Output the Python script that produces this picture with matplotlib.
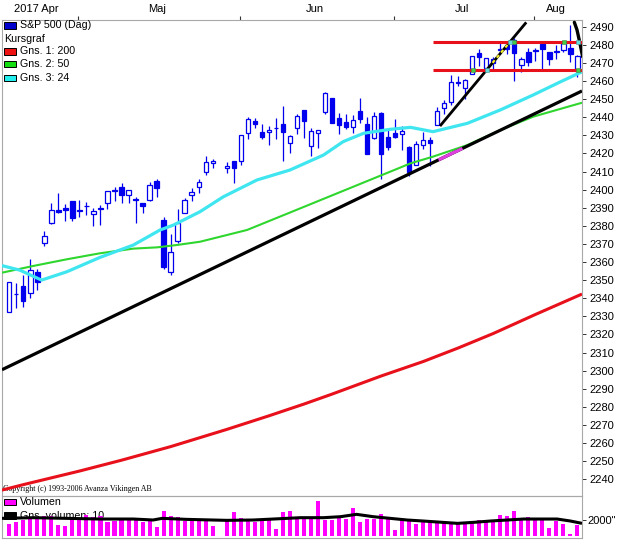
import numpy as np
import matplotlib
matplotlib.use("Agg")
import matplotlib.pyplot as plt
from matplotlib.patches import Rectangle

plt.rcParams['font.family'] = ['Liberation Sans', 'DejaVu Sans']

# ---------------- data ----------------
dates = [
    "2017-04-17", "2017-04-18", "2017-04-19", "2017-04-20", "2017-04-21",
    "2017-04-24", "2017-04-25", "2017-04-26", "2017-04-27", "2017-04-28",
    "2017-05-01", "2017-05-02", "2017-05-03", "2017-05-04", "2017-05-05",
    "2017-05-08", "2017-05-09", "2017-05-10", "2017-05-11", "2017-05-12",
    "2017-05-15", "2017-05-16", "2017-05-17", "2017-05-18", "2017-05-19",
    "2017-05-22", "2017-05-23", "2017-05-24", "2017-05-25", "2017-05-26",
    "2017-05-29", "2017-05-30", "2017-05-31",
    "2017-06-01", "2017-06-02", "2017-06-05", "2017-06-06", "2017-06-07",
    "2017-06-08", "2017-06-09", "2017-06-12", "2017-06-13", "2017-06-14",
    "2017-06-15", "2017-06-16", "2017-06-19", "2017-06-20", "2017-06-21",
    "2017-06-22", "2017-06-23", "2017-06-26", "2017-06-27", "2017-06-28",
    "2017-06-29", "2017-06-30",
    "2017-07-03", "2017-07-05", "2017-07-06", "2017-07-07", "2017-07-10",
    "2017-07-11", "2017-07-12", "2017-07-13", "2017-07-14", "2017-07-17",
    "2017-07-18", "2017-07-19", "2017-07-20", "2017-07-21", "2017-07-24",
    "2017-07-25", "2017-07-26", "2017-07-27", "2017-07-28", "2017-07-31",
    "2017-08-01", "2017-08-02", "2017-08-03", "2017-08-04", "2017-08-07",
    "2017-08-08", "2017-08-09",
]
nan = np.nan
open_ = [2332.6, 2342.5, 2346.8, 2342.7, 2354.7, 2370.3, 2381.5, 2389.0, 2389.7, 2393.7,
         2388.5, 2391.1, 2386.5, 2389.8, 2392.4, 2399.9, 2401.6, 2396.8, 2394.8, 2392.4,
         2394.0, 2404.6, 2383.0, 2354.7, 2371.4, 2387.2, 2397.0, 2401.4, 2409.5, 2414.5,
         nan, 2411.7, 2415.6,
         2415.7, 2431.3, 2437.8, 2431.9, 2432.0, 2434.3, 2436.4, 2425.9, 2434.2, 2443.8,
         2424.1, 2431.2, 2442.6, 2450.7, 2439.3, 2437.4, 2434.7, 2443.3, 2436.3, 2428.7,
         2442.4, 2429.2,
         2431.4, 2430.8, 2423.7, 2413.5, 2424.5, 2427.4, 2435.8, 2445.0, 2448.4, 2459.5,
         2455.9, 2463.9, 2475.6, 2467.4, 2472.0, 2477.9, 2480.0, 2482.8, 2469.1, 2475.9,
         2477.1, 2480.4, 2476.0, 2476.1, 2477.1, 2478.4, 2465.4]
high = [2349.1, 2348.4, 2352.6, 2361.4, 2356.2, 2376.9, 2392.5, 2398.2, 2392.1, 2393.7,
        2394.5, 2392.9, 2389.8, 2391.4, 2399.3, 2401.4, 2403.9, 2399.7, 2395.7, 2392.4,
        2404.1, 2405.8, 2384.9, 2375.7, 2389.1, 2395.5, 2400.9, 2405.6, 2418.7, 2416.7,
        nan, 2415.3, 2416.0,
        2430.1, 2440.2, 2439.6, 2436.2, 2435.3, 2439.3, 2446.2, 2430.4, 2441.5, 2443.8,
        2434.0, 2433.2, 2453.8, 2450.7, 2442.2, 2441.6, 2441.4, 2450.4, 2440.2, 2443.0,
        2442.7, 2432.7,
        2439.2, 2434.9, 2424.3, 2426.9, 2432.0, 2429.3, 2445.8, 2449.3, 2463.5, 2462.8,
        2460.9, 2473.8, 2477.6, 2472.5, 2473.1, 2481.2, 2481.7, 2484.0, 2473.5, 2478.0,
        2478.5, 2480.4, 2476.0, 2480.0, 2481.0, 2490.9, 2474.4]
low = [2332.5, 2334.5, 2335.1, 2340.3, 2344.5, 2369.0, 2381.2, 2386.8, 2382.7, 2382.4,
       2384.8, 2385.8, 2379.8, 2380.4, 2389.4, 2393.9, 2392.4, 2392.8, 2381.7, 2387.2,
       2393.9, 2396.1, 2356.2, 2352.7, 2370.4, 2386.9, 2393.9, 2398.0, 2408.0, 2412.2,
       nan, 2409.4, 2403.6,
       2413.5, 2427.7, 2434.3, 2428.1, 2424.8, 2427.9, 2415.7, 2420.0, 2430.7, 2428.3,
       2418.5, 2422.9, 2441.8, 2436.6, 2430.7, 2433.3, 2431.1, 2437.0, 2419.4, 2428.0,
       2405.7, 2421.7,
       2428.7, 2422.1, 2407.7, 2413.5, 2422.3, 2412.8, 2435.8, 2441.7, 2446.7, 2457.2,
       2450.3, 2463.9, 2468.4, 2465.1, 2466.3, 2474.9, 2474.9, 2459.9, 2464.7, 2468.5,
       2471.1, 2466.5, 2468.9, 2472.1, 2475.9, 2470.3, 2462.1]
close = [2349.0, 2342.2, 2338.2, 2355.8, 2348.7, 2374.2, 2388.6, 2387.5, 2388.8, 2384.2,
         2388.3, 2391.2, 2388.1, 2389.5, 2399.3, 2399.4, 2396.9, 2399.6, 2394.4, 2390.9,
         2402.3, 2400.7, 2357.0, 2365.7, 2381.7, 2394.0, 2398.4, 2404.4, 2415.1, 2415.8,
         nan, 2412.9, 2411.8,
         2430.1, 2439.1, 2436.1, 2429.3, 2433.1, 2433.8, 2431.8, 2429.4, 2440.4, 2437.9,
         2432.5, 2433.2, 2453.5, 2437.0, 2435.6, 2434.5, 2438.3, 2439.1, 2419.4, 2440.7,
         2419.7, 2423.4,
         2429.0, 2432.5, 2409.8, 2425.2, 2427.4, 2425.5, 2443.3, 2447.8, 2459.3, 2459.1,
         2460.6, 2473.8, 2473.5, 2472.5, 2469.9, 2477.1, 2477.8, 2475.4, 2472.1, 2470.3,
         2476.4, 2477.6, 2472.2, 2476.8, 2480.9, 2474.9, 2474.0]
volume = [1445, 1700, 2000, 2295, 2125, 2550, 2550, 1360, 1275, 2295,
          2125, 2635, 2420, 2465, 1785, 1870, 1955, 2000, 2125, 1785,
          2000, 1150, 3145, 2550, 2420, 1870, 1870, 1870, 1870, 1275,
          nan, 1870, 3060,
          2210, 2125, 1700, 1955, 2295, 850, 3060, 3145, 2210, 2125,
          2125, 4420, 2000, 2000, 2340, 2085, 3485, 1785, 2125, 2125,
          2720, 2125,
          720, 2000, 2125, 1445, 1785, 1870, 1785, 1870, 1445, 1530,
          1785, 1785, 2000, 2000, 2000, 2635, 2550, 3145, 2125, 2340,
          2125, 2295, 1020, 1870, 1445, 170, 1360]

# moving averages (slot position, value)
ma200_x = [-1.04, 2, 10, 16, 23, 31, 37, 42, 46, 53, 59, 64, 69, 75, 81.65]
ma200_y = [2234.0, 2237.0, 2244.5, 2250.5, 2258.0, 2267.5, 2275.0, 2281.5, 2287.0,
           2297.0, 2305.0, 2312.5, 2320.5, 2331.0, 2342.3]
ma50_x = [-1.04, 3.4, 8.2, 12.9, 17.7, 21.1, 23.9, 27.2, 33.9, 40.0, 45.0, 50.0, 55.0,
          57.2, 60.4, 65.3, 70.0, 74.7, 81.65]
ma50_y = [2354.1, 2357.8, 2361.5, 2364.8, 2367.4, 2368.1, 2369.4, 2371.2, 2377.7, 2387.3,
          2395.2, 2403.1, 2411.0, 2414.5, 2418.2, 2424.6, 2432.9, 2440.3, 2448.0]
ma24_x = [-1.04, 1.5, 4.6, 8.2, 12.9, 17.7, 21.5, 23.4, 27.2, 30.5, 35.3, 40.0, 44.8,
          47.6, 50.5, 54.3, 57.2, 60.4, 65.3, 70.0, 74.7, 78.6, 81.65]
ma24_y = [2358.0, 2355.5, 2350.0, 2354.6, 2362.5, 2369.4, 2377.7, 2380.4, 2387.8, 2396.0,
          2405.3, 2410.8, 2419.1, 2426.5, 2431.1, 2433.3, 2434.4, 2432.0, 2436.6, 2444.0,
          2452.3, 2459.6, 2465.1]
volavg_x = [-1.04, 3.4, 8.2, 12.9, 17.7, 20.5, 21.8, 25.3, 29, 31, 34.8, 39.6, 41.5, 44.8,
            47.2, 49.5, 51.9, 54.3, 56.7, 59, 63.9, 66.2, 68.6, 71, 73.3, 78.1, 80, 81.65]
volavg_y = [2210, 2295, 2210, 2125, 2125, 2000, 2210, 2080, 2000, 1955, 2000, 2210, 2295,
            2295, 2420, 2720, 2420, 2210, 2000, 1870, 1572, 1700, 1870, 2000, 2125, 2125,
            1870, 1572]

# drawn trend lines / levels (slot position, price)
trend_long_x = [-1.04, 81.65]
trend_long_y = [2300.5, 2454.5]
trend_steep_x = [61.4, 73.7]
trend_steep_y = [2435.1, 2492.4]
curve_x = [80.56, 80.94, 81.31, 81.55, 81.74]
curve_y = [2492.4, 2488.2, 2481.7, 2477.1, 2473.4]
levels = [2481.7, 2466.0]
levels_start = 60.4

month_names = {4: "2017 Apr", 5: "Maj", 6: "Jun", 7: "Jul", 8: "Aug"}
price_ticks = list(range(2240, 2491, 10))

# ---------------- figure ----------------
W, H, DPI = 617, 541, 100
fig = plt.figure(figsize=(W / DPI, H / DPI), dpi=DPI)
fig.patch.set_facecolor("white")


def fx(px):
    return px / W


def fy(py):
    return 1 - py / H


ax_left, ax_right = 2, 582
main_top, main_bot, vol_bot = 20, 495.5, 538.3
ax = fig.add_axes([fx(ax_left), fy(main_bot), (ax_right - ax_left) / W, (main_bot - main_top) / H])
axv = fig.add_axes([fx(ax_left), fy(vol_bot), (ax_right - ax_left) / W, (vol_bot - main_bot) / H])
axv.set_zorder(10)
axv.patch.set_visible(False)

SPINE = "#a8a8a8"
BLUE = "#0000ee"
RED = "#e8101a"
GREEN = "#2ed62e"
CYAN = "#3fe6f0"
MAG = "#ff00ff"

xlim = (-1.04, 81.65)
x = np.arange(len(dates))
o = np.array(open_, float)
h = np.array(high, float)
l = np.array(low, float)
c = np.array(close, float)
valid = ~np.isnan(o)
up = valid & (c >= o)
dn = valid & (c < o)

# candles
ax.vlines(x[valid], l[valid], h[valid], color=BLUE, lw=0.9, zorder=2)
bw = 0.62
ax.bar(x[up], (c - o)[up], bottom=o[up], width=bw, facecolor="white",
       edgecolor=BLUE, lw=0.9, zorder=3)
ax.bar(x[dn], (o - c)[dn], bottom=c[dn], width=bw, facecolor=BLUE,
       edgecolor=BLUE, lw=0.9, zorder=3)

# moving averages
ax.plot(ma200_x, ma200_y, color=RED, lw=2.2, zorder=4, solid_capstyle="butt")
ax.plot(ma50_x, ma50_y, color=GREEN, lw=1.5, zorder=4, solid_capstyle="butt")
ax.plot(ma24_x, ma24_y, color=CYAN, lw=2.3, zorder=4, solid_capstyle="butt")

# trend lines
ax.plot(trend_long_x, trend_long_y, color="black", lw=2.3, zorder=5, solid_capstyle="butt")
slope = (trend_long_y[1] - trend_long_y[0]) / (trend_long_x[1] - trend_long_x[0])
seg = np.array([61.2, 64.6])
ax.plot(seg, trend_long_y[0] + slope * (seg - trend_long_x[0]), color="#e040e0",
        lw=2.3, zorder=6, solid_capstyle="butt")
ax.plot(trend_steep_x, trend_steep_y, color="black", lw=2.0, zorder=5, solid_capstyle="butt")
s2 = (trend_steep_y[1] - trend_steep_y[0]) / (trend_steep_x[1] - trend_steep_x[0])
seg2 = np.array([68.9, 71.4])
ax.plot(seg2, trend_steep_y[0] + s2 * (seg2 - trend_steep_x[0]), color="#f4ec30",
        lw=1.6, ls=(0, (1.5, 1.5)), zorder=6)
ax.plot(curve_x, curve_y, color="black", lw=2.4, zorder=5, solid_capstyle="round")
for lv in levels:
    ax.plot([levels_start, xlim[1]], [lv, lv], color=RED, lw=2.2, zorder=5,
            solid_capstyle="butt")
# small handle markers on drawn lines
ax.plot([66.1, 72.0, 79.1, 81.1], [2466.0, 2481.7, 2481.7, 2466.0], "s",
        color="#44cc44", ms=3, zorder=7, mec="#448844", mew=0.4)
ax.plot([68.1, 71.4, 81.1], [2466.0, 2481.7, 2481.7], "s",
        color="#66dddd", ms=3, zorder=7, mec="#449999", mew=0.4)

ax.set_xlim(*xlim)
ax.set_ylim(2231.0, 2493.7)

# axes styling
for a in (ax, axv):
    for s in a.spines.values():
        s.set_color(SPINE)
        s.set_linewidth(0.8)
ax.yaxis.tick_right()
ax.set_yticks(price_ticks)
ax.set_yticklabels([str(t) for t in price_ticks])
ax.tick_params(axis="y", direction="out", length=3.0, width=0.7, pad=2.2,
               labelsize=8, color="#333333", labelcolor="black")

# months
months = np.array([int(d[5:7]) for d in dates])
starts = []
for m in sorted(set(months)):
    idx = np.where(months == m)[0]
    starts.append(idx[0])
    centre = (idx[0] + idx[-1]) / 2
    if m == 4:
        centre -= 0.7  # first label sits a little left in the original
    ax.annotate(month_names[m], xy=(centre, 1.0),
                xycoords=("data", "axes fraction"), xytext=(0, 5.8),
                textcoords="offset points", ha="center", va="baseline", fontsize=8)
ax.xaxis.tick_top()
ax.set_xticks([s - 0.15 for s in starts[1:]])
ax.set_xticklabels([])
ax.tick_params(axis="x", direction="out", length=3.0, width=0.8, color="#333333")

# copyright (inside the chart, under the lines)
ax.text(fx(3), fy(489), "Copyright (c) 1993-2006 Avanza Vikingen AB",
        transform=fig.transFigure, fontsize=5.8, family=["Liberation Serif", "DejaVu Serif"],
        va="center", ha="left", zorder=1)

# volume panel
v = np.array(volume, float)
vv = ~np.isnan(v)
axv.bar(x[vv], v[vv], width=0.58, color=MAG, zorder=2)
axv.plot(volavg_x, volavg_y, color="black", lw=2.2, zorder=4, solid_capstyle="butt")
axv.set_xlim(*xlim)
axv.set_ylim(-331, 5121)
axv.set_xticks([])
axv.yaxis.tick_right()
axv.set_yticks([2000])
axv.set_yticklabels(['2000"'])
axv.tick_params(axis="y", direction="out", length=3.0, width=0.7, pad=1.0,
                labelsize=8, color="#333333")

# legends


def legend_row(py, color, label):
    tx = 20
    if color is not None:
        fig.add_artist(Rectangle((fx(4), fy(py + 3.2)), 12 / W, 6.4 / H,
                                 transform=fig.transFigure, facecolor=color,
                                 edgecolor="black", lw=0.7, zorder=3))
    else:
        tx = 4
    fig.text(fx(tx), fy(py), label, fontsize=7.7, va="center", ha="left", zorder=3)


legend_row(25.3, "#0000cc", "S&P 500 (Dag)")
legend_row(39.0, None, "Kursgraf")
legend_row(51.5, "#ee1111", "Gns. 1: 200")
legend_row(64.2, "#11dd11", "Gns. 2: 50")
legend_row(78.0, "#22eeee", "Gns. 3: 24")
legend_row(502.0, MAG, "Volumen")
legend_row(515.6, "black", "Gns. volumen: 10")

fig.savefig("out.png", dpi=DPI, facecolor="white")
